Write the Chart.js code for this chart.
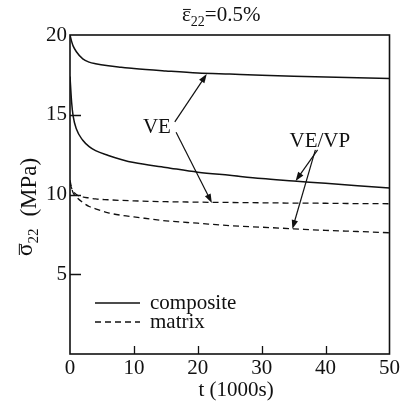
<!DOCTYPE html>
<html>
<head>
<meta charset="utf-8">
<script src="https://cdn.jsdelivr.net/npm/chart.js@4/dist/chart.umd.min.js"></script>
<style>
  html, body { margin: 0; padding: 0; background: #fff; }
  #chart { display: block; }
</style>
</head>
<body>
<canvas id="chart" width="402" height="407"></canvas>
<script>
// time (1000 s)
const time = [0, 0.25, 0.5, 1, 2, 3, 4, 6, 8, 10, 15, 20, 25, 30, 35, 40, 45, 50];
// average stress sigma_22 (MPa)
const compositeVE   = [20.0, 19.6, 19.3, 18.95, 18.5, 18.3, 18.2, 18.07, 17.98, 17.9, 17.75, 17.62, 17.55, 17.48, 17.42, 17.37, 17.32, 17.28];
const compositeVEVP = [17.4, 15.8, 14.9, 14.1, 13.4, 13.0, 12.75, 12.45, 12.2, 12.0, 11.7, 11.4, 11.2, 11.0, 10.85, 10.7, 10.55, 10.4];
const matrixVE      = [10.7, 10.4, 10.2, 10.0, 9.85, 9.78, 9.72, 9.67, 9.63, 9.6, 9.55, 9.52, 9.5, 9.48, 9.46, 9.45, 9.43, 9.42];
const matrixVEVP    = [10.9, 10.4, 10.1, 9.85, 9.5, 9.25, 9.1, 8.85, 8.7, 8.6, 8.35, 8.2, 8.05, 7.95, 7.85, 7.75, 7.68, 7.6];

const xTicks = [0, 10, 20, 30, 40, 50];
const yTicks = [5, 10, 15, 20];

// annotation labels and arrows, in data units [t, sigma]
const labelVE = { text: 'VE', at: [13.6, 14.2] };
const labelVEVP = { text: 'VE/VP', at: [39.1, 13.3] };
const arrowsVE = [[16.4, 14.55, 21.4, 17.55], [16.6, 13.9, 22.2, 9.47]];
const arrowsVEVP = [[38.75, 12.8, 35.3, 10.85], [38.4, 12.8, 34.8, 7.84]];

const SERIF = '"Liberation Serif", "DejaVu Serif", serif';
const INK = '#111';

function pts(ys) {
  return time.map((t, i) => ({ x: t, y: ys[i] }));
}

function line(label, ys, dashed) {
  return {
    label: label,
    data: pts(ys),
    borderColor: INK,
    borderWidth: dashed ? 1.3 : 1.5,
    borderDash: dashed ? [6, 4] : [],
    pointRadius: 0,
    fill: false,
    cubicInterpolationMode: 'monotone'
  };
}

// symbol with overbar, subscript, then the rest of the text
function barSub(ctx, x, y, sym, sub, rest, size, opt) {
  opt = opt || {};
  const lift = opt.lift || 0, gap = opt.gap || 0, restSize = opt.restSize || size;
  ctx.font = size + 'px ' + SERIF;
  ctx.textBaseline = 'alphabetic';
  ctx.textAlign = 'left';
  const w = ctx.measureText(sym).width;
  ctx.fillText(sym, x, y - lift);
  ctx.beginPath();
  ctx.lineWidth = 1;
  ctx.moveTo(x + 1, y - lift - size * 0.55);
  ctx.lineTo(x + w, y - lift - size * 0.55);
  ctx.stroke();
  let cx = x + w;
  const subSize = opt.subSize || Math.round(size * 0.68);
  ctx.font = subSize + 'px ' + SERIF;
  ctx.fillText(sub, cx, y - lift + size * 0.25);
  cx += ctx.measureText(sub).width + gap;
  ctx.font = restSize + 'px ' + SERIF;
  ctx.fillText(rest, cx, y);
}

function arrow(ctx, x0, y0, x1, y1) {
  const a = Math.atan2(y1 - y0, x1 - x0);
  const hl = 9, hw = 3.2;
  ctx.beginPath();
  ctx.moveTo(x0, y0);
  ctx.lineTo(x1 - Math.cos(a) * hl * 0.8, y1 - Math.sin(a) * hl * 0.8);
  ctx.stroke();
  ctx.beginPath();
  ctx.moveTo(x1, y1);
  ctx.lineTo(x1 - Math.cos(a) * hl - Math.sin(a) * hw, y1 - Math.sin(a) * hl + Math.cos(a) * hw);
  ctx.lineTo(x1 - Math.cos(a) * hl + Math.sin(a) * hw, y1 - Math.sin(a) * hl - Math.cos(a) * hw);
  ctx.closePath();
  ctx.fill();
}

const decorations = {
  id: 'decorations',
  afterDatasetsDraw(chart) {
    const { ctx, chartArea: a, scales: { x, y } } = chart;
    ctx.save();
    ctx.strokeStyle = INK;
    ctx.fillStyle = INK;

    // frame
    ctx.lineWidth = 1.6;
    ctx.strokeRect(a.left, a.top, a.right - a.left, a.bottom - a.top);

    // inward ticks
    ctx.lineWidth = 1.3;
    ctx.beginPath();
    yTicks.slice(0, -1).forEach(v => {
      const py = Math.round(y.getPixelForValue(v)) + 0.5;
      ctx.moveTo(a.left, py);
      ctx.lineTo(a.left + 11, py);
    });
    xTicks.slice(1, -1).forEach(v => {
      const px = Math.round(x.getPixelForValue(v)) + 0.5;
      ctx.moveTo(px, a.bottom);
      ctx.lineTo(px, a.bottom - 8);
    });
    ctx.stroke();

    // annotations
    ctx.font = '21px ' + SERIF;
    ctx.textAlign = 'center';
    ctx.textBaseline = 'middle';
    [labelVE, labelVEVP].forEach(l => {
      ctx.fillText(l.text, x.getPixelForValue(l.at[0]), y.getPixelForValue(l.at[1]));
    });
    ctx.lineWidth = 1.2;
    arrowsVE.concat(arrowsVEVP).forEach(r => {
      arrow(ctx, x.getPixelForValue(r[0]), y.getPixelForValue(r[1]),
        x.getPixelForValue(r[2]), y.getPixelForValue(r[3]));
    });

    // legend
    const lx = a.left + 25, ly1 = a.bottom - 51, ly2 = a.bottom - 32;
    ctx.lineWidth = 1.5;
    ctx.beginPath();
    ctx.moveTo(lx, ly1);
    ctx.lineTo(lx + 45, ly1);
    ctx.stroke();
    ctx.lineWidth = 1.3;
    ctx.setLineDash([6, 4]);
    ctx.beginPath();
    ctx.moveTo(lx, ly2);
    ctx.lineTo(lx + 45, ly2);
    ctx.stroke();
    ctx.setLineDash([]);
    ctx.font = '21px ' + SERIF;
    ctx.textAlign = 'left';
    ctx.textBaseline = 'alphabetic';
    ctx.fillText('composite', lx + 55, ly1 + 6);
    ctx.fillText('matrix', lx + 55, ly2 + 6);

    // titles
    barSub(ctx, 182, 21, '\u03B5', '22', '=0.5%', 21, { subSize: 14 });
    ctx.font = '21px ' + SERIF;
    ctx.textAlign = 'center';
    ctx.fillText('t (1000s)', 236, 396);
    ctx.save();
    ctx.translate(36, 256);
    ctx.rotate(-Math.PI / 2);
    barSub(ctx, 0, 0, '\u03C3', '22', '(MPa)', 23, { lift: 4, gap: 12, subSize: 15 });
    ctx.restore();

    ctx.restore();
  }
};

new Chart(document.getElementById('chart'), {
  type: 'line',
  data: {
    datasets: [
      line('composite VE', compositeVE, false),
      line('composite VE/VP', compositeVEVP, false),
      line('matrix VE', matrixVE, true),
      line('matrix VE/VP', matrixVEVP, true)
    ]
  },
  options: {
    responsive: false,
    animation: false,
    layout: { padding: { left: 0, right: 2, top: 35, bottom: 0 } },
    plugins: { legend: { display: false }, tooltip: { enabled: false } },
    scales: {
      x: {
        type: 'linear',
        min: 0,
        max: 50,
        afterBuildTicks: s => { s.ticks = xTicks.map(v => ({ value: v })); },
        afterFit: s => { s.height = 53; },
        grid: { display: false, drawTicks: false },
        border: { display: false },
        ticks: { color: INK, padding: 2, maxRotation: 0, font: { family: SERIF, size: 21 } }
      },
      y: {
        type: 'linear',
        min: 0,
        max: 20,
        afterBuildTicks: s => { s.ticks = yTicks.map(v => ({ value: v })); },
        afterFit: s => { s.width = 70; },
        grid: { display: false, drawTicks: false },
        border: { display: false },
        ticks: { color: INK, padding: 3, font: { family: SERIF, size: 21 } }
      }
    }
  },
  plugins: [decorations]
});
</script>
</body>
</html>
